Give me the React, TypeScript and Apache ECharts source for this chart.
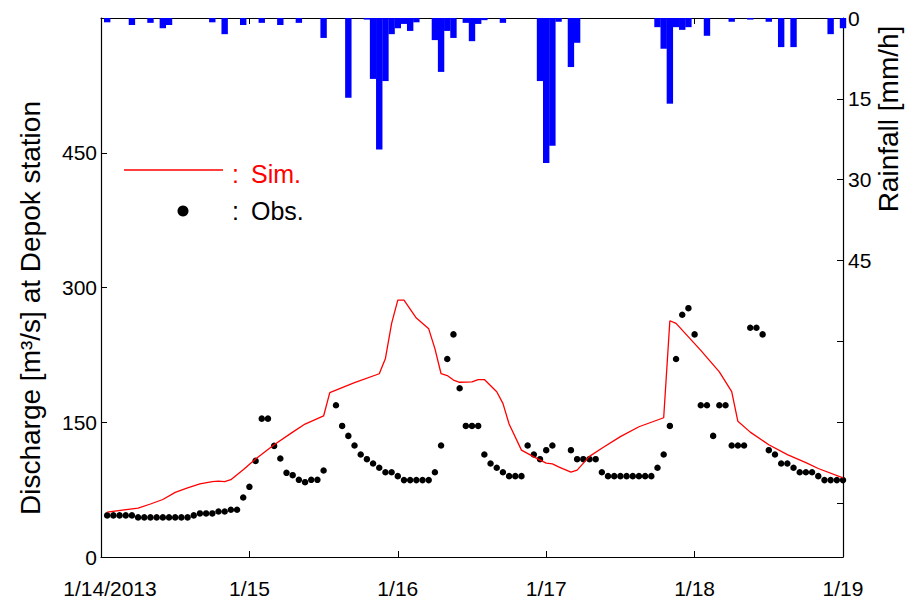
import React, { useEffect, useRef } from "react";
import * as echarts from "echarts";

const FONT = '"Liberation Sans", Arial, Helvetica, sans-serif';

// x axis: hours since 1/14/2013 00:00
const DAY_LABELS = ["1/14/2013", "1/15", "1/16", "1/17", "1/18", "1/19"];
const HOURS_PER_DAY = 24;

// Observed discharge, hourly, hours 1..120 (null = missing)
const OBS_START_HOUR = 1;
const OBS_VALUES: (number | null)[] = [
  46.3, 46.3, 46.3, 46.3, 46.3,
  44.1, 44.1, 44.1, 44.1, 44.1, 44.1, 44.1, 44.1, 44.1,
  46.3, 48.5, 48.5, 48.5, 50.7, 50.7, 52.6, 52.6,
  66.3, 78.1, 107, 154, 154, 123.7, 109.6, 93.7, 91.1, 85.9, 83.3, 85.9, 85.9, 96.3,
  null,
  168.9, 145.9, 134.8, 124.1, 114.1, 108.9, 104.1, 99.3, 94.4, 94.4, 90,
  85.6, 85.6, 85.6, 85.6, 85.6,
  94.4, 124.1, 220.4, 247.8, 187.8, 145.9, 145.9, 145.9, 114.1, 104.1, 99.3, 94.4,
  90, 90, 90, 124.1, 114.1, 108.9, 118.9, 124.1,
  null, null,
  118.9, 108.9, 108.9, 108.9, 108.9, 94.4,
  90, 90, 90, 90, 90, 90, 90, 90,
  99.3, 114.1, 145.9, 220.4, 269.6, 277, 247.8, 168.9, 168.9, 134.8, 168.9, 168.9,
  124.1, 124.1, 124.1, 255.2, 255.2, 247.8, 118.9, 114.1, 104.1, 104.1, 99.3,
  94.4, 94.4, 94.4, 90, 85.6, 85.6, 85.6, 85.6,
];

// Simulated discharge (line vertices)
const SIM_HOURS = [
  1, 6, 8, 10, 12, 14, 16, 18, 19, 20, 21, 23, 25, 28, 31, 33, 36, 37, 39, 41,
  45, 46, 47, 48, 49, 51, 53, 54, 55, 56, 57, 58, 60, 61, 62, 64, 65, 66, 68, 70,
  72, 73, 74, 76, 77, 79, 81, 84, 87, 91, 92, 93, 95, 97, 100, 102, 103, 105, 108, 111,
  114, 116, 120,
];
const SIM_VALUES = [
  50, 54.5, 59, 64, 72, 77, 81.5, 84, 84.5, 84, 86, 97, 109, 125, 139, 148, 157, 183, 188.5, 194,
  204, 221, 260, 286, 286, 266, 254, 232, 204, 202, 197, 194.5, 195, 197.5, 197.5, 184, 171, 148, 119, 111.5,
  104.5, 103.7, 100.4, 94.4, 96.7, 112, 121, 134, 145, 155, 263, 260, 245, 230, 206, 184, 151, 139, 125, 114,
  105, 98.5, 88,
];

// Rainfall [mm/h]
const RAIN_HOURS = [
  1, 5, 8, 10, 11, 18, 20, 23, 26, 29, 32, 36, 40, 43, 44, 45, 46, 47, 48, 49,
  50, 51, 54, 55, 56, 57, 59, 60, 61, 62, 65, 71, 72, 73, 74, 76, 77, 90, 91, 92,
  93, 94, 95, 98, 102, 105, 108, 110, 112, 118, 120,
];
const RAIN_MM = [
  0.8, 1.3, 0.9, 1.9, 1.3, 0.8, 3.0, 1.3, 0.9, 1.3, 0.9, 3.7, 14.8, 0.3, 11.3, 24.4, 11.7, 3.0, 1.9, 1.1,
  2.4, 0.8, 4.1, 10.0, 2.4, 3.7, 0.9, 4.3, 1.1, 0.4, 0.9, 11.7, 26.9, 23.7, 0.7, 9.1, 4.6, 1.7, 5.7, 15.9,
  1.7, 2.2, 1.7, 3.3, 0.7, 0.3, 0.7, 5.4, 5.4, 3.0, 1.9,
];

const DISCHARGE_TICKS = { min: 0, max: 600, interval: 150, maxLabel: 450 };
const RAIN_TICKS = { min: 0, max: 100, interval: 15, maxLabel: 45 };

export default function App() {
  const ref = useRef<HTMLDivElement>(null);

  useEffect(() => {
    if (!ref.current) return;
    const chart = echarts.init(ref.current, null, { renderer: "svg" });

    const obs = OBS_VALUES.map((v, i) => [OBS_START_HOUR + i, v]).filter((p) => p[1] !== null);
    const sim = SIM_HOURS.map((h, i) => [h, SIM_VALUES[i]]);
    const rain = RAIN_HOURS.map((h, i) => [h, RAIN_MM[i]]);

    const axisLineStyle = { color: "#000", width: 1.2 };

    chart.setOption({
      animation: false,
      backgroundColor: "#ffffff",
      textStyle: { fontFamily: FONT },
      grid: { left: 101, right: 71, top: 18, bottom: 43 },
      xAxis: [
        {
          type: "value",
          position: "bottom",
          min: 0,
          max: 5 * HOURS_PER_DAY,
          interval: HOURS_PER_DAY,
          axisLine: { show: true, onZero: false, lineStyle: axisLineStyle },
          axisTick: { show: true, inside: true, length: 6, lineStyle: { color: "#000", width: 1 } },
          splitLine: { show: false },
          axisLabel: {
            color: "#000",
            fontSize: 21,
            fontFamily: FONT,
            margin: 21,
            formatter: (v: number) => {
              const i = Math.round(v / HOURS_PER_DAY);
              return i === 0 ? "{first|" + DAY_LABELS[0] + "}" : DAY_LABELS[i] ?? "";
            },
            rich: {
              first: { fontSize: 21, fontFamily: FONT, color: "#000", padding: [0, 0, 0, 18] },
            },
          },
        },
        {
          type: "value",
          position: "top",
          min: 0,
          max: 5 * HOURS_PER_DAY,
          interval: HOURS_PER_DAY,
          axisLine: { show: true, onZero: false, lineStyle: axisLineStyle },
          axisTick: { show: true, inside: true, length: 6, lineStyle: { color: "#000", width: 1 } },
          axisLabel: { show: false },
          splitLine: { show: false },
        },
      ],
      yAxis: [
        {
          type: "value",
          position: "left",
          min: DISCHARGE_TICKS.min,
          max: DISCHARGE_TICKS.max,
          interval: DISCHARGE_TICKS.interval,
          axisLine: { show: true, onZero: false, lineStyle: axisLineStyle },
          axisTick: { show: true, inside: true, length: 6, lineStyle: { color: "#000", width: 1 } },
          splitLine: { show: false },
          axisLabel: {
            color: "#000",
            fontSize: 21,
            fontFamily: FONT,
            margin: 4,
            formatter: (v: number) => (v <= DISCHARGE_TICKS.maxLabel ? String(v) : ""),
          },
        },
        {
          type: "value",
          position: "right",
          inverse: true,
          min: RAIN_TICKS.min,
          max: RAIN_TICKS.max,
          interval: RAIN_TICKS.interval,
          axisLine: { show: true, onZero: false, lineStyle: axisLineStyle },
          axisTick: { show: true, inside: true, length: 6, lineStyle: { color: "#000", width: 1 } },
          splitLine: { show: false },
          axisLabel: {
            color: "#000",
            fontSize: 21,
            fontFamily: FONT,
            margin: 5,
            formatter: (v: number) => (v <= RAIN_TICKS.maxLabel ? String(v) : ""),
          },
        },
      ],
      series: [
        {
          type: "bar",
          xAxisIndex: 0,
          yAxisIndex: 1,
          data: rain,
          barWidth: 6.4,
          clip: false,
          itemStyle: { color: "#0000ff" },
          silent: true,
        },
        {
          type: "line",
          xAxisIndex: 0,
          yAxisIndex: 0,
          data: sim,
          showSymbol: false,
          symbol: "none",
          lineStyle: { color: "#ff0000", width: 1.3 },
          silent: true,
        },
        {
          type: "scatter",
          xAxisIndex: 0,
          yAxisIndex: 0,
          data: obs,
          symbol: "circle",
          symbolSize: 6.5,
          itemStyle: { color: "#000", opacity: 1 },
          silent: true,
        },
      ],
      graphic: [
        {
          type: "text",
          x: 30,
          y: 308,
          rotation: Math.PI / 2,
          style: {
            text: "Discharge [m³/s] at Depok station",
            fontSize: 28,
            fontFamily: FONT,
            fill: "#000",
            align: "center",
            verticalAlign: "middle",
          },
        },
        {
          type: "text",
          x: 888,
          y: 119,
          rotation: Math.PI / 2,
          style: {
            text: "Rainfall [mm/h]",
            fontSize: 28,
            fontFamily: FONT,
            fill: "#000",
            align: "center",
            verticalAlign: "middle",
          },
        },
        {
          type: "line",
          shape: { x1: 124, y1: 170, x2: 223, y2: 170 },
          style: { stroke: "#ff0000", lineWidth: 1.3 },
        },
        {
          type: "text",
          x: 232,
          y: 174,
          style: { text: ":", fontSize: 25, fontFamily: FONT, fill: "#ff0000", verticalAlign: "middle" },
        },
        {
          type: "text",
          x: 251,
          y: 174,
          style: { text: "Sim.", fontSize: 25, fontFamily: FONT, fill: "#ff0000", verticalAlign: "middle" },
        },
        {
          type: "circle",
          shape: { cx: 183, cy: 211, r: 5.5 },
          style: { fill: "#000" },
        },
        {
          type: "text",
          x: 232,
          y: 211,
          style: { text: ":", fontSize: 25, fontFamily: FONT, fill: "#000", verticalAlign: "middle" },
        },
        {
          type: "text",
          x: 251,
          y: 211,
          style: { text: "Obs.", fontSize: 25, fontFamily: FONT, fill: "#000", verticalAlign: "middle" },
        },
      ],
    });

    return () => chart.dispose();
  }, []);

  return (
    <div
      ref={ref}
      style={{ position: "fixed", left: 0, top: 0, width: 914, height: 600, background: "#fff" }}
    />
  );
}
